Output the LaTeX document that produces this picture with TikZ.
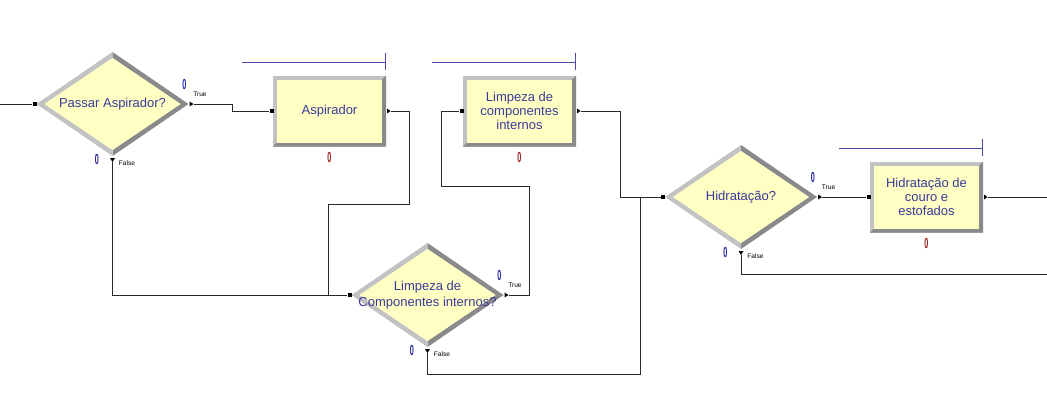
\documentclass[tikz,border=0pt]{standalone}
\usepackage{fontspec}
\usepackage{graphicx}
\setmainfont{Liberation Sans}
\definecolor{ylw}{HTML}{FFFFC4}
\definecolor{lgray}{HTML}{C2C2C2}
\definecolor{dgray}{HTML}{8A8A8A}
\definecolor{txtblue}{HTML}{3A3A9A}
\definecolor{cntblue}{HTML}{2020A0}
\definecolor{cntred}{HTML}{A01818}
\definecolor{linblue}{HTML}{4848A8}
\definecolor{connc}{HTML}{282828}
\tikzset{
  conn/.style={draw=connc, line width=0.8pt},
  lbl/.style={font=\fontsize{13}{16}\selectfont, text=txtblue, align=center, inner sep=0pt},
  blbl/.style={font=\fontsize{13}{14}\selectfont, text=txtblue, align=center, inner sep=0pt},
  tf/.style={font=\fontsize{6.6}{7}\selectfont, text=black, inner sep=0pt},
  cntb/.style={font=\bfseries\fontsize{14.5}{14}\selectfont, text=cntblue, inner sep=0pt},
  cntr/.style={font=\bfseries\fontsize{14.5}{14}\selectfont, text=cntred, inner sep=0pt},
  inport/.style={rectangle, fill=black, minimum size=4pt, inner sep=0pt},
  outtip/.style={fill=black},
  qline/.style={draw=linblue, line width=0.8pt},
}
\newcommand\decision[4]{%
  \begin{scope}[shift={(#2,#3)}]
    \fill[lgray] (-76,0)--(0,-52)--(0,-46)--(-68,0)--cycle;
    \fill[dgray] (0,-52)--(76,0)--(68,0)--(0,-46)--cycle;
    \fill[dgray] (76,0)--(0,52)--(0,46)--(68,0)--cycle;
    \fill[lgray] (0,52)--(-76,0)--(-68,0)--(0,46)--cycle;
    \fill[ylw] (-68,0)--(0,-46)--(68,0)--(0,46)--cycle;
    \node[lbl] (#1) at (0,0) {#4};
    \node[inport] (#1in) at (-78,0) {};
    \fill[outtip] (77,-2.5)--(81,0)--(77,2.5)--cycle;
    \fill[outtip] (-2.5,54)--(0,58)--(2.5,54)--cycle;
    \coordinate (#1true) at (81,0);
    \coordinate (#1false) at (0,58);
    \node[tf] (#1tl) at (87.5,-10) {True};
    \node[cntb] (#1tc) at (72,-19) {\scalebox{0.5}[1]{0}};
    \node[tf] (#1fl) at (14.5,59) {False};
    \node[cntb] (#1fc) at (-15.5,56) {\scalebox{0.5}[1]{0}};
  \end{scope}}
\newcommand\process[4]{%
  \begin{scope}[shift={(#2,#3)}]
    \fill[lgray] (-56.5,-35.5) rectangle (56.5,35.5);
    \fill[dgray] (56.5,-35.5)--(56.5,35.5)--(-56.5,35.5)--(-52.5,31.5)--(52.5,31.5)--(52.5,-31.5)--cycle;
    \fill[ylw] (-52.5,-31.5) rectangle (52.5,31.5);
    \node[blbl] (#1) at (0,0) {#4};
    \node[inport] (#1in) at (-58,0) {};
    \fill[outtip] (57.5,-2.5)--(61,0)--(57.5,2.5)--cycle;
    \coordinate (#1out) at (61,0);
    \node[cntr] (#1c) at (0,46.5) {\scalebox{0.5}[1]{0}};
    \coordinate (#1qa) at (-88,-48.5);
    \coordinate (#1qb) at (55.5,-48.5);
    \draw[qline] (#1qa) -- (#1qb);
    \draw[qline] (55.5,-58.5) -- (55.5,-41.5);
  \end{scope}}
\begin{document}
\begin{tikzpicture}[x=1pt,y=-1pt]
\useasboundingbox (0,0) rectangle (1047,418);
\decision{d1}{112.5}{104}{Passar Aspirador?}
\decision{d2}{427.5}{295}{Limpeza de\\Componentes internos?}
\decision{d3}{741}{197}{Hidratação?}
\process{b1}{329.5}{111}{Aspirador}
\process{b2}{519.5}{111}{Limpeza de\\componentes\\internos}
\process{b3}{926.5}{197}{Hidratação de\\couro e\\estofados}
\coordinate (start) at (0,104);
\coordinate (j1) at (328,295);
\coordinate (j2) at (640,197);
\coordinate (end1) at (1047,197);
\coordinate (end2) at (1047,274);
\draw[conn] (start) -- (d1in);
\draw[conn] (d1true) -- (232,104) -- (232,111) -- (b1in);
\draw[conn] (b1out) -- (409,111) -- (409,204) -- (328,204) -- (j1);
\draw[conn] (d1false) |- (d2in);
\draw[conn] (d2true) -- (529,295) -- (529,186) -- (441,186) -- (441,111) -- (b2in);
\draw[conn] (b2out) -- (620,111) -- (620,197) -- (d3in);
\draw[conn] (d2false) -- (427.5,374) -- (640,374) -- (j2);
\draw[conn] (d3true) -- (b3in);
\draw[conn] (b3out) -- (end1);
\draw[conn] (d3false) |- (end2);
\end{tikzpicture}
\end{document}
